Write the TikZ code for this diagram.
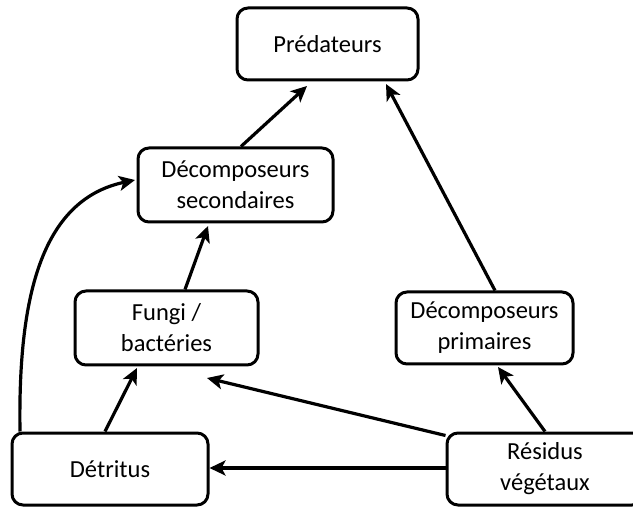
\documentclass[tikz,border=0pt]{standalone}
\usepackage{fontspec}
\setmainfont{Carlito}
\usetikzlibrary{arrows.meta}
\begin{document}
\begin{tikzpicture}[x=1pt,y=-1pt,
  box/.style={draw,line width=3pt,rounded corners=11pt,align=center,font=\fontsize{24.5}{31}\selectfont,inner sep=0pt},
  arr/.style={line width=3.2pt,-{Stealth[length=16pt,width=15pt,inset=4pt]}}]
\useasboundingbox (0,0) rectangle (633,508);
\node[box,minimum width=181pt,minimum height=72pt] (pred) at (327.5,44) {Prédateurs};
\node[box,minimum width=195pt,minimum height=74pt] (dsec) at (235.5,185) {Décomposeurs\\secondaires};
\node[box,minimum width=183pt,minimum height=74pt] (fung) at (166.5,328) {Fungi /\\bactéries};
\node[box,minimum width=177pt,minimum height=72pt] (dprim) at (484.5,328) {Décomposeurs\\primaires};
\node[box,minimum width=196pt,minimum height=72pt] (detr) at (110,469) {Détritus};
\node[box,minimum width=196pt,minimum height=72pt,text width=190pt] (resi) at (545,469) {Résidus\\végétaux};
\coordinate (t1) at (137,368);
\coordinate (t2) at (207,378);
\coordinate (t3) at (498,367);
\coordinate (t4) at (208,226);
\coordinate (t5) at (307,86);
\coordinate (t6) at (386,84);
\coordinate (t7) at (135,180);
\draw[arr] (detr.north -| 105,0) -- (t1);
\draw[arr] (resi.north west) ++(0,4) -- (t2);
\draw[arr] (resi.north -| 545,0) -- (t3);
\draw[arr] (fung.north -| 185,0) -- (t4);
\draw[arr] (dsec.north -| 241,0) -- (t5);
\draw[arr] (dprim.north -| 495,0) -- (t6);
\draw[arr] (detr.north -| 20,0) .. controls (18,300) and (40,200) .. (t7);
\draw[arr] (resi.west |- 0,468) -- (detr.east |- 0,468);
\end{tikzpicture}
\end{document}
